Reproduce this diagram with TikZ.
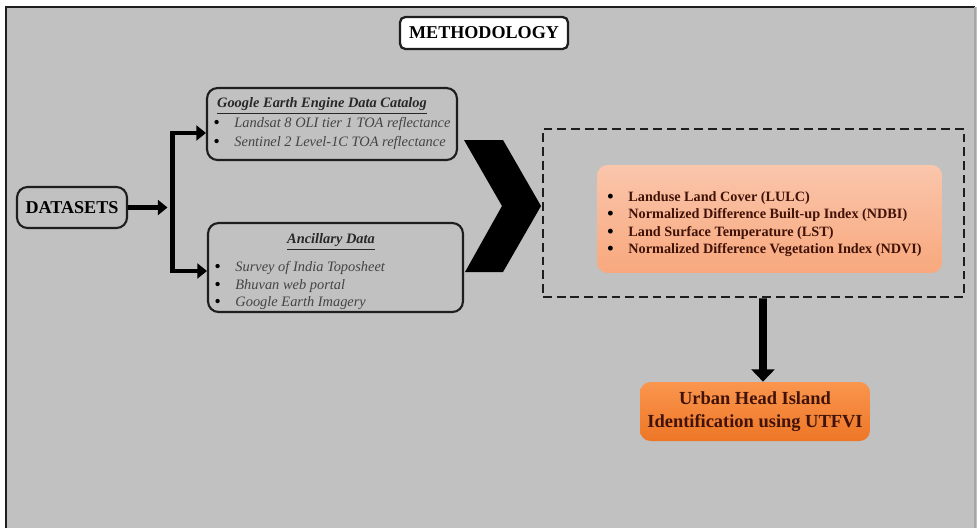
\documentclass[tikz,border=0pt]{standalone}
\usepackage{fontspec}
\setmainfont{Liberation Serif}
\usetikzlibrary{arrows.meta}
\begin{document}
\begin{tikzpicture}[x=0.02cm,y=-0.02cm]
			% Couleurs (MODIFIABLES)
			\definecolor{fond}{RGB}{193,193,193}
			\definecolor{bord}{RGB}{30,30,30}
			\definecolor{texteTitre}{RGB}{40,40,40}
			\definecolor{texteListe}{RGB}{68,68,68}
			\definecolor{saumonHaut}{RGB}{250,198,172}
			\definecolor{saumonBas}{RGB}{248,168,125}
			\definecolor{orangeHaut}{RGB}{250,150,78}
			\definecolor{orangeBas}{RGB}{238,118,38}
			\definecolor{texteBrun}{RGB}{65,18,8}
			% Styles (MODIFIABLES)
			\tikzstyle{fleche}=[-{Triangle[length=5.5pt,width=8.5pt]},line width=2.6pt,black]
			\tikzstyle{grossefleche}=[-{Triangle[length=7pt,width=13pt]},line width=4.5pt,black]
			\tikzstyle{titre}=[draw=bord,line width=1.3pt,rounded corners=3pt,fill=white,minimum width=3.36cm,minimum height=0.64cm,font=\fontsize{10.3}{12}\selectfont\bfseries]
			\tikzstyle{boite}=[draw=bord,line width=1.2pt,rounded corners=6pt,fill=fond,inner sep=0pt]
			\tikzstyle{soustitre}=[inner sep=0pt,text=texteTitre,font=\fontsize{8.2}{10}\selectfont\bfseries\itshape]
			\tikzstyle{liste}=[anchor=west,align=left,inner sep=0pt,text=texteListe]
			\tikzstyle{cadre}=[draw=bord,line width=1.5pt,dash pattern=on 5pt off 2.8pt,minimum width=8.42cm,minimum height=3.36cm]
			\tikzstyle{indice}=[rounded corners=6pt,top color=saumonHaut,bottom color=saumonBas]
			\tikzstyle{sortie}=[rounded corners=6pt,top color=orangeHaut,bottom color=orangeBas,align=center,text=texteBrun,font=\fontsize{10.5}{13}\selectfont\bfseries]
			% Puce
			\def\Puce{\makebox[12pt][l]{\textcolor{black}{\raisebox{-0.7pt}{\scalebox{1.25}{\textbullet}}}}}
			% Fond
			\useasboundingbox (0,0) rectangle (977,528);
			\fill[white] (0,0) rectangle (977,528);
			\fill[fond] (6,7) rectangle (977,528);
			\draw[bord,line width=1pt] (6,528) -- (6,7) -- (975,7);
			\draw[gray!70,line width=0.8pt] (975,7) -- (975,528);
			% Noeuds
			\node[titre] (methodo) at (484,33) {METHODOLOGY};
			\node[boite,minimum width=2.2cm,minimum height=0.82cm,font=\fontsize{10.3}{12}\selectfont\bfseries] (datasets) at (72,207.5) {DATASETS};
			%
			\node[boite,minimum width=5cm,minimum height=1.44cm] (gee) at (332,124) {};
			\node[soustitre] (geeT) at (322,106) {\underline{Google Earth Engine Data Catalog}};
			\node[liste,font=\fontsize{8.2}{10.8}\selectfont\itshape] (geeL) at (213,133.5) {\Puce Landsat 8 OLI tier 1 TOA reflectance\\ \Puce Sentinel 2 Level-1C TOA reflectance};
			%
			\node[boite,minimum width=5.1cm,minimum height=1.78cm] (anc) at (335.5,267.5) {};
			\node[soustitre] (ancT) at (331,242) {\underline{Ancillary Data}};
			\node[liste,font=\fontsize{8.2}{10}\selectfont\itshape] (ancL) at (214,285.5) {\Puce Survey of India Toposheet\\ \Puce Bhuvan web portal\\ \Puce Google Earth Imagery};
			%
			\node[cadre] (cadre) at (753.5,213) {};
			\node[indice,minimum width=6.9cm,minimum height=2.16cm] (indices) at (769.5,219) {};
			\node[liste,text=texteBrun,font=\fontsize{8.1}{10}\selectfont\bfseries] (indicesL) at (607,224) {\Puce Landuse Land Cover (LULC)\\ \Puce Normalized Difference Built-up Index (NDBI)\\ \Puce Land Surface Temperature (LST)\\ \Puce Normalized Difference Vegetation Index (NDVI)};
			%
			\node[sortie,minimum width=4.6cm,minimum height=1.18cm] (resultat) at (755,411.5) {Urban Head Island\\Identification using UTFVI};
			\coordinate (jonction) at (172.5,207.5);
			% Chevron
			\fill[black] (464,140) -- (503,140) -- (541,206) -- (503,272) -- (465,272) -- (502,206) -- cycle;
			% Arcs (MODIFIABLES : Styles)
			\draw[fleche] (datasets.east) -- ([xshift=-0.1cm]jonction);
			\draw[fleche] (jonction) |- ([yshift=-0.18cm]gee.west);
			\draw[fleche] (jonction) |- ([yshift=-0.07cm]anc.west);
			\draw[grossefleche] ([xshift=0.19cm]cadre.south) -- ([xshift=0.16cm]resultat.north);
\end{tikzpicture}
\end{document}
